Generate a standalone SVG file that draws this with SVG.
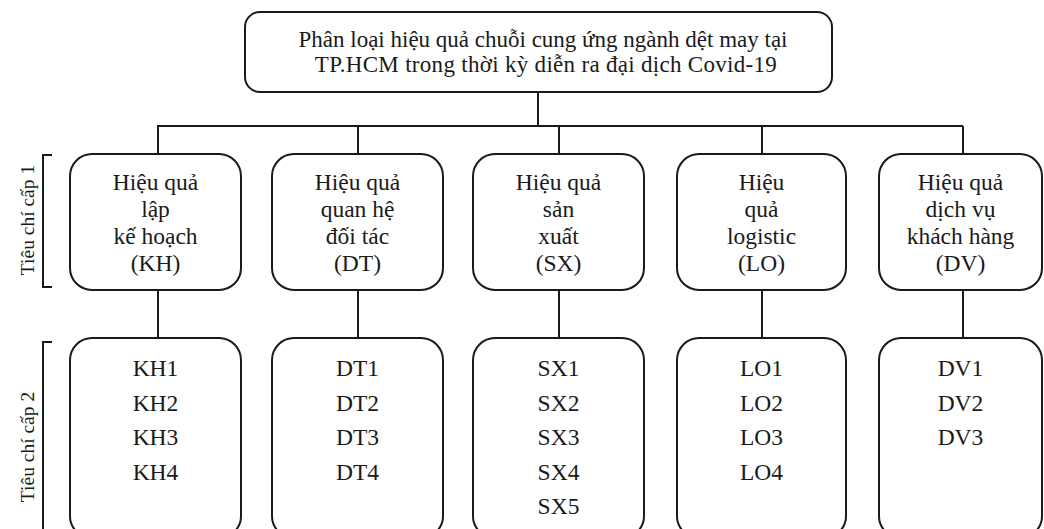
<svg xmlns="http://www.w3.org/2000/svg" width="1044" height="529" viewBox="0 0 1044 529">
<style>
text{font-family:"Liberation Serif","Times New Roman",serif;fill:#1a1a1a;}
.t{font-size:23.5px;text-anchor:middle;}
.h{font-size:23px;text-anchor:middle;}
.s{font-size:19.5px;text-anchor:middle;}
.box{fill:#fff;stroke:#1a1a1a;stroke-width:2;}
.ln{fill:none;stroke:#1a1a1a;stroke-width:2;}
</style>
<rect width="1044" height="529" fill="#fff"/>
<g id="connectors">
<path class="ln" d="M538 92V126M157 126H963M158 126V154M358 126V154M559 126V154M762 126V154M963 126V154"/>
<path class="ln" d="M158 290V338M358 290V338M559 290V338M762 290V338M963 290V338"/>
</g>
<g id="brackets">
<path class="ln" d="M52 155H43V287H52"/>
<path class="ln" d="M52 342H43V540"/>
<text class="s" transform="translate(34 220) rotate(-90)">Tiêu chí cấp 1</text>
<text class="s" transform="translate(34 447) rotate(-90)">Tiêu chí cấp 2</text>
</g>
<g id="root">
<rect class="box" x="245" y="12" width="587" height="80" rx="15"/>
<text class="h" x="543" y="47">Phân loại hiệu quả chuỗi cung ứng ngành dệt may tại</text>
<text class="h" x="546" y="72" letter-spacing="0.3">TP.HCM trong thời kỳ diễn ra đại dịch Covid-19</text>
</g>
<g id="KH">
<rect class="box" x="70" y="154" width="171" height="136" rx="22"/>
<text class="t" x="155.5" y="190">Hiệu quả</text>
<text class="t" x="155.5" y="217">lập</text>
<text class="t" x="155.5" y="244">kế hoạch</text>
<text class="t" x="155.5" y="271">(KH)</text>
</g>
<g id="DT">
<rect class="box" x="272" y="154" width="171" height="136" rx="22"/>
<text class="t" x="357.5" y="190">Hiệu quả</text>
<text class="t" x="357.5" y="217">quan hệ</text>
<text class="t" x="357.5" y="244">đối tác</text>
<text class="t" x="357.5" y="271">(DT)</text>
</g>
<g id="SX">
<rect class="box" x="473" y="154" width="171" height="136" rx="22"/>
<text class="t" x="558.5" y="190">Hiệu quả</text>
<text class="t" x="558.5" y="217">sản</text>
<text class="t" x="558.5" y="244">xuất</text>
<text class="t" x="558.5" y="271">(SX)</text>
</g>
<g id="LO">
<rect class="box" x="677" y="154" width="169" height="136" rx="22"/>
<text class="t" x="761.5" y="190">Hiệu</text>
<text class="t" x="761.5" y="217">quả</text>
<text class="t" x="761.5" y="244">logistic</text>
<text class="t" x="761.5" y="271">(LO)</text>
</g>
<g id="DV">
<rect class="box" x="879" y="154" width="163" height="136" rx="22"/>
<text class="t" x="960.5" y="190">Hiệu quả</text>
<text class="t" x="960.5" y="217">dịch vụ</text>
<text class="t" x="960.5" y="244">khách hàng</text>
<text class="t" x="960.5" y="271">(DV)</text>
</g>
<g id="KH-items">
<rect class="box" x="70" y="338" width="171" height="200" rx="22"/>
<text class="t" x="155.5" y="376">KH1</text>
<text class="t" x="155.5" y="410.5">KH2</text>
<text class="t" x="155.5" y="445">KH3</text>
<text class="t" x="155.5" y="479.5">KH4</text>
</g>
<g id="DT-items">
<rect class="box" x="272" y="338" width="171" height="200" rx="22"/>
<text class="t" x="357.5" y="376">DT1</text>
<text class="t" x="357.5" y="410.5">DT2</text>
<text class="t" x="357.5" y="445">DT3</text>
<text class="t" x="357.5" y="479.5">DT4</text>
</g>
<g id="SX-items">
<rect class="box" x="473" y="338" width="171" height="200" rx="22"/>
<text class="t" x="558.5" y="376">SX1</text>
<text class="t" x="558.5" y="410.5">SX2</text>
<text class="t" x="558.5" y="445">SX3</text>
<text class="t" x="558.5" y="479.5">SX4</text>
<text class="t" x="558.5" y="514">SX5</text>
</g>
<g id="LO-items">
<rect class="box" x="677" y="338" width="169" height="200" rx="22"/>
<text class="t" x="761.5" y="376">LO1</text>
<text class="t" x="761.5" y="410.5">LO2</text>
<text class="t" x="761.5" y="445">LO3</text>
<text class="t" x="761.5" y="479.5">LO4</text>
</g>
<g id="DV-items">
<rect class="box" x="879" y="338" width="163" height="200" rx="22"/>
<text class="t" x="960.5" y="376">DV1</text>
<text class="t" x="960.5" y="410.5">DV2</text>
<text class="t" x="960.5" y="445">DV3</text>
</g>
</svg>
